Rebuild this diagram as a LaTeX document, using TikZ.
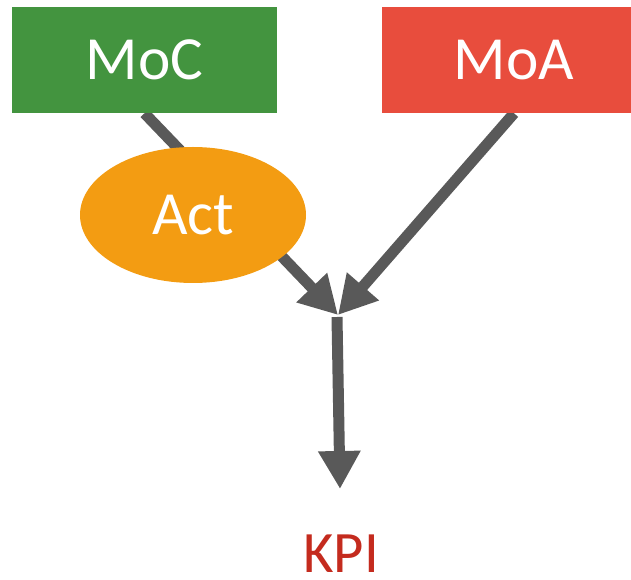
\documentclass[tikz,border=0pt]{standalone}
\usepackage{fontspec}
\setmainfont{Carlito}
\usetikzlibrary{arrows.meta, positioning, shapes.geometric, backgrounds}
\definecolor{cgreen}{HTML}{43943F}
\definecolor{cred}{HTML}{E84D3D}
\definecolor{corange}{HTML}{F39C12}
\definecolor{cgrey}{HTML}{595959}
\definecolor{ckpi}{HTML}{C42B1E}
\tikzset{
  every picture/.style={x=0.75pt, y=-0.75pt},
  box/.style={fill=#1, text=white, minimum width=198.75pt, minimum height=79.5pt, inner sep=0pt, font=\fontsize{46}{50}\selectfont},
  box/.default=cgreen,
  blob/.style={ellipse, fill=corange, text=white, minimum width=169.5pt, minimum height=102pt, inner sep=0pt, font=\fontsize{46}{50}\selectfont},
  arrow/.style={-{Triangle[length=28.5pt, width=30pt]}, draw=cgrey, line width=8.25pt},
  kpi/.style={text=ckpi, inner sep=0pt, font=\fontsize{44}{48}\selectfont},
}

\begin{document}
\begin{tikzpicture}
  \clip (0,0) rectangle (631,580);
  \node[box=cgreen] (moc) at (144.5,60) {MoC};
  \node[box=cred] (moa) at (514,60) {MoA};
  \node[blob] (act) at (193,215) {Act};
  \coordinate (join) at (338,315);
  \coordinate (stem) at (337,317);
  \coordinate (tip) at (340,489);
  \node[kpi] (kpi) at (341,554) {KPI};
  \begin{scope}[on background layer]
    \draw[arrow] (moc.south) -- (join);
    \draw[arrow] (moa.south) -- (join);
    \draw[arrow] (stem) -- (tip);
  \end{scope}
\end{tikzpicture}
\end{document}
